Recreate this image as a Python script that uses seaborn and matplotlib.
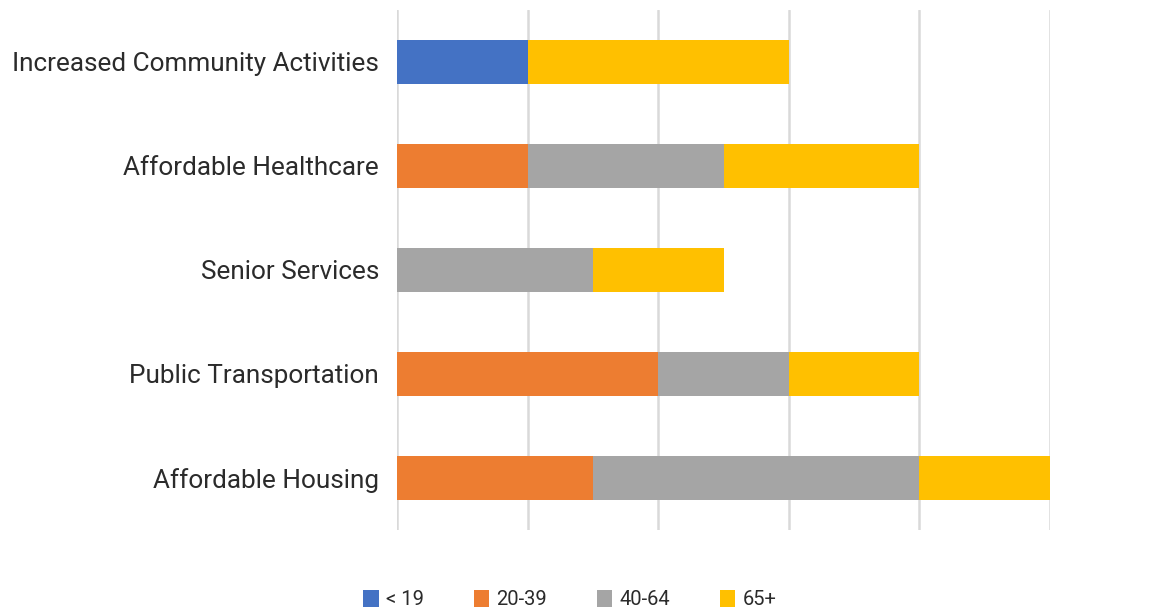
import numpy as np
import pandas as pd
import matplotlib
matplotlib.use("Agg")
import matplotlib.pyplot as plt
import seaborn as sns
from matplotlib.patches import Patch

categories = [
    "Increased Community Activities",
    "Affordable Healthcare",
    "Senior Services",
    "Public Transportation",
    "Affordable Housing",
]
age_groups = ["< 19", "20-39", "40-64", "65+"]
under_19 = [2, 0, 0, 0, 0]
age_20_39 = [0, 2, 0, 4, 3]
age_40_64 = [0, 3, 3, 2, 5]
age_65_plus = [4, 3, 2, 2, 2]
colors = ["#4472C4", "#ED7D31", "#A5A5A5", "#FFC000"]

sns.set_theme(style="white")
plt.rcParams["font.family"] = ["Roboto", "DejaVu Sans"]

series = [under_19, age_20_39, age_40_64, age_65_plus]
cum = np.cumsum(np.array(series, dtype=float), axis=0)

fig = plt.figure(figsize=(11.75, 6.13), dpi=100)
ax = fig.add_axes([0.338, 0.1354, 0.5556, 0.8483])

# Stacked bars: draw cumulative totals from the outermost segment inward
for i in range(len(age_groups) - 1, -1, -1):
    df = pd.DataFrame({"category": categories, "value": cum[i]})
    sns.barplot(data=df, x="value", y="category", orient="h", color=colors[i],
                width=0.42, saturation=1, linewidth=0, ax=ax, zorder=3)

ax.set_xlim(0, 10)
ax.set_ylim(4.5, -0.5)
ax.set_xticks(np.arange(0, 11, 2))
ax.xaxis.grid(True, color="#D9D9D9", linewidth=1.8, zorder=0)
ax.set_xticklabels([])
ax.tick_params(axis="x", length=0)
ax.tick_params(axis="y", length=0, pad=13, labelsize=18.8, labelcolor="#2B2B2B")
ax.set_xlabel("")
ax.set_ylabel("")
for s in ax.spines.values():
    s.set_visible(False)

handles = [Patch(facecolor=c, edgecolor="none", label=l) for c, l in zip(colors, age_groups)]
fig.legend(handles=handles, loc="center", bbox_to_anchor=(0.485, 0.022), ncol=4,
           frameon=False, fontsize=14.5, handlelength=0.75, handleheight=0.95,
           handletextpad=0.35, columnspacing=2.5, labelcolor="#2B2B2B")

fig.savefig("out.png", dpi=100)
